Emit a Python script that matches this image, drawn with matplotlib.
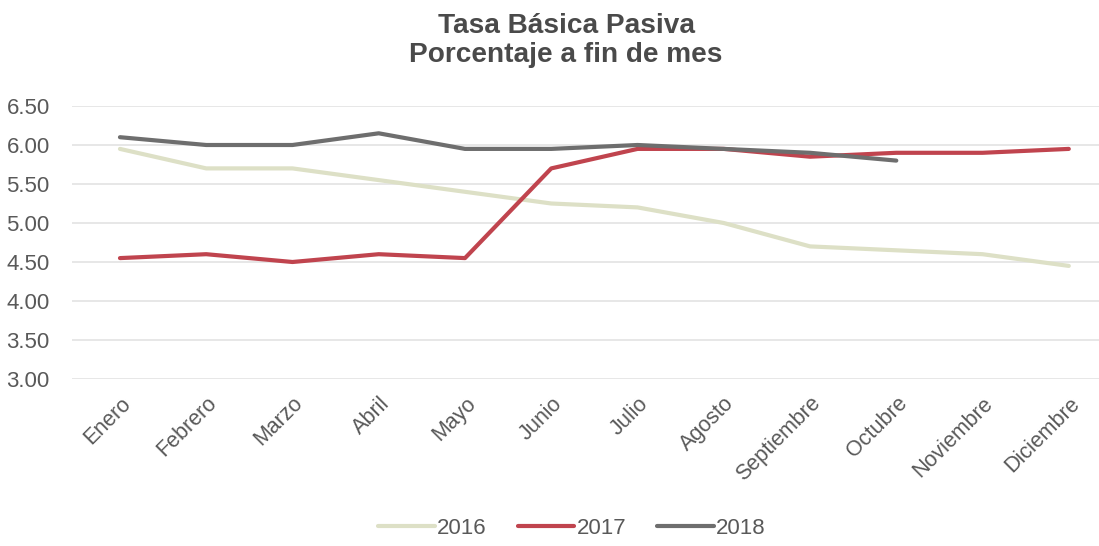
import matplotlib
matplotlib.use("Agg")
import matplotlib.pyplot as plt

plt.rcParams['font.family'] = ['Liberation Sans', 'DejaVu Sans']

meses = ['Enero', 'Febrero', 'Marzo', 'Abril', 'Mayo', 'Junio', 'Julio',
         'Agosto', 'Septiembre', 'Octubre', 'Noviembre', 'Diciembre']

tasa_2016 = [5.95, 5.70, 5.70, 5.55, 5.40, 5.25, 5.20, 5.00, 4.70, 4.65, 4.60, 4.45]
tasa_2017 = [4.55, 4.60, 4.50, 4.60, 4.55, 5.70, 5.95, 5.95, 5.85, 5.90, 5.90, 5.95]
tasa_2018 = [6.10, 6.00, 6.00, 6.15, 5.95, 5.95, 6.00, 5.95, 5.90, 5.80]

y_ticks = [3.00, 3.50, 4.00, 4.50, 5.00, 5.50, 6.00, 6.50]

TEXT = '#595959'
W, H = 1099, 546

fig = plt.figure(figsize=(W / 100, H / 100), dpi=100)
ax = fig.add_axes([72 / W, 1 - 379 / H, 1 - 72 / W, (379 - 106) / H])

x = list(range(len(meses)))
ax.plot(x, tasa_2016, color='#DDE0C6', linewidth=3, label='2016', solid_capstyle='round')
ax.plot(x, tasa_2017, color='#C0444E', linewidth=3, label='2017', solid_capstyle='round')
ax.plot(x[:len(tasa_2018)], tasa_2018, color='#6E6E6E', linewidth=3, label='2018',
        solid_capstyle='round')

ax.set_ylim(3.0, 6.5)
ax.set_xlim(-0.556, 11.35)
ax.set_yticks(y_ticks)
ax.set_yticklabels(['%.2f' % v for v in y_ticks])
ax.set_xticks(x)
ax.set_xticklabels(meses, rotation=45, ha='right', rotation_mode='anchor')

ax.grid(axis='y', color='#E3E3E3', linewidth=1.2)
ax.set_axisbelow(True)
for s in ax.spines.values():
    s.set_visible(False)
ax.tick_params(axis='both', length=0, colors=TEXT)
ax.tick_params(axis='y', pad=16, labelsize=16)
ax.tick_params(axis='x', pad=10, labelsize=15.5)

fig.text(566 / W, 1 - 33 / H, 'Tasa Básica Pasiva', ha='center', va='baseline',
         fontsize=20.2, fontweight='bold', color='#4A4A4A')
fig.text(566 / W, 1 - 62 / H, 'Porcentaje a fin de mes', ha='center', va='baseline',
         fontsize=20.2, fontweight='bold', color='#4A4A4A')

leg = fig.legend(loc='center', bbox_to_anchor=(572 / W, 1 - 528 / H), ncol=3, frameon=False,
                 fontsize=16, handlelength=2.55, handletextpad=0.1, columnspacing=1.4)
for t in leg.get_texts():
    t.set_color(TEXT)

fig.savefig('out.png', dpi=100)
